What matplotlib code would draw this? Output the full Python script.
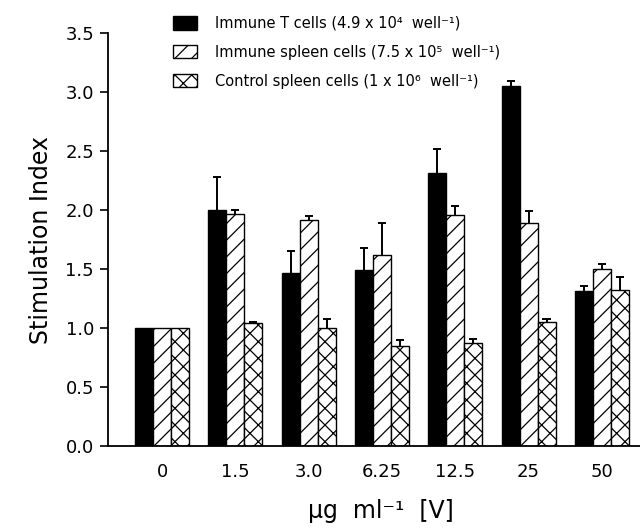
import matplotlib
matplotlib.use("Agg")
import matplotlib.pyplot as plt
import numpy as np

categories = ["0", "1.5", "3.0", "6.25", "12.5", "25", "50"]
immune_t = [1.0, 2.00, 1.47, 1.49, 2.31, 3.05, 1.31]
immune_t_err = [0.0, 0.28, 0.18, 0.19, 0.21, 0.04, 0.05]
immune_spleen = [1.0, 1.97, 1.915, 1.62, 1.96, 1.89, 1.50]
immune_spleen_err = [0.0, 0.03, 0.03, 0.27, 0.07, 0.10, 0.04]
control_spleen = [1.0, 1.04, 1.0, 0.85, 0.87, 1.055, 1.32]
control_spleen_err = [0.0, 0.01, 0.08, 0.05, 0.04, 0.02, 0.11]

labels = ["Immune T cells (4.9 x 10\u2074  well\u207b\u00b9)",
          "Immune spleen cells (7.5 x 10\u2075  well\u207b\u00b9)",
          "Control spleen cells (1 x 10\u2076  well\u207b\u00b9)"]

plt.rcParams['hatch.linewidth'] = 0.9
fig = plt.figure(figsize=(6.4, 5.29), dpi=100)
ax = fig.add_axes([108/640, 1-446/529, 1-108/640, (446-33)/529])

x = np.arange(len(categories))
w = 0.245
cap = 0.055
series = [(immune_t, immune_t_err, 'black', ''),
          (immune_spleen, immune_spleen_err, 'white', '//'),
          (control_spleen, control_spleen_err, 'white', 'xx')]
handles = []
for i, (vals, err, fc, hatch) in enumerate(series):
    xs = x + (i - 1) * w
    vals = np.array(vals)
    err = np.array(err)
    b = ax.bar(xs, vals, width=w, color=fc, edgecolor='black', hatch=hatch,
               linewidth=1.0, zorder=2)
    handles.append(b)
    m = err > 0
    ax.vlines(xs[m], vals[m], vals[m] + err[m], color='black', linewidth=1.4, zorder=1)
    ax.hlines(vals[m] + err[m], xs[m] - cap, xs[m] + cap, color='black',
              linewidth=1.4, zorder=1)

ax.set_xlim(-0.737, 6.52)
ax.set_ylim(0, 3.5)
ax.set_yticks(np.arange(0, 3.51, 0.5))
ax.set_yticklabels([f"{v:.1f}" for v in np.arange(0, 3.51, 0.5)])
ax.set_xticks(x)
ax.set_xticklabels(categories)
ax.tick_params(axis='y', direction='out', length=6, width=1.2, labelsize=13, pad=4)
ax.tick_params(axis='x', length=0, labelsize=13, pad=12)
for s in ['top', 'right']:
    ax.spines[s].set_visible(False)
for s in ['left', 'bottom']:
    ax.spines[s].set_linewidth(1.3)

ax.set_ylabel("Stimulation Index", fontsize=17, labelpad=9)
ax.set_xlabel("\u00b5g  ml\u207b\u00b9  [V]", fontsize=17, labelpad=13)
ax.xaxis.set_label_coords(0.512, -0.128)

leg = fig.legend(handles, labels, loc='upper left', bbox_to_anchor=(173/640, 1-16/529),
                 frameon=False, fontsize=10.5, handlelength=1.65, handleheight=1.0,
                 labelspacing=0.95, handletextpad=1.2, borderaxespad=0, borderpad=0)

fig.savefig("out.png", dpi=100)
